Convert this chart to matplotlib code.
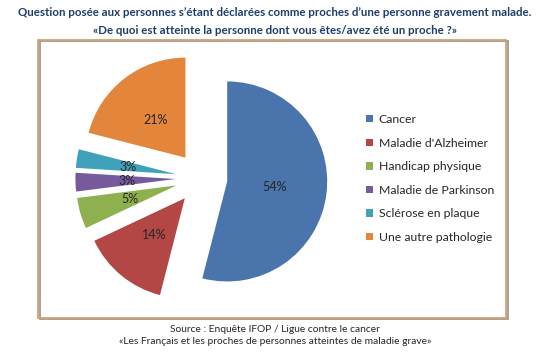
import matplotlib
matplotlib.use("Agg")
import matplotlib.pyplot as plt
from matplotlib.patches import Rectangle

categories = ["Cancer", "Maladie d'Alzheimer", "Handicap physique",
              "Maladie de Parkinson", "Sclérose en plaque", "Une autre pathologie"]
values = [54, 14, 5, 3, 3, 21]
colors = ["#4A74AC", "#B34745", "#8FB04F", "#765A9C", "#3FA2BA", "#E3863C"]

title_lines = ["Question posée aux personnes s\u2019étant déclarées comme proches d\u2019une personne gravement malade.",
               "«De quoi est atteinte la personne dont vous êtes/avez été un proche ?»"]
source_lines = ["Source : Enquête IFOP / Ligue contre le cancer",
                "«Les Français et les proches de personnes atteintes de maladie grave»"]

plt.rcParams['font.family'] = ['Lato', 'DejaVu Sans']

W, H = 550, 363
fig = plt.figure(figsize=(W / 100, H / 100), dpi=100)
ax = fig.add_axes([0, 0, 1, 1])

R = 100
wedges, texts, autotexts = ax.pie(
    values, colors=colors, startangle=90, counterclock=False,
    explode=[26] * len(values), radius=R, center=(201.4, H - 178.2),
    autopct='%d%%', pctdistance=0.48,
    textprops=dict(fontsize=9, color='#262626'))
ax.set_xlim(0, W)
ax.set_ylim(0, H)
ax.set_aspect('equal')
ax.axis('off')

# frame box
ax.add_patch(Rectangle((39.5, H - 319), 468, 278, fill=False,
                       edgecolor='#9A9A9A', linewidth=1.3, zorder=0))
ax.add_patch(Rectangle((38, H - 318), 468, 278, fill=False,
                       edgecolor='#D4A070', linewidth=1.3, zorder=0))

leg = ax.legend(wedges, categories, loc='upper left',
                bbox_to_anchor=(366 / W, 1 - 114 / H),
                frameon=False, fontsize=8.8, handlelength=0.55, handleheight=0.55,
                handletextpad=0.5, labelspacing=1.03, borderaxespad=0,
                borderpad=0)
for t in leg.get_texts():
    t.set_color('#262626')

renderer = fig.canvas.get_renderer()
t1 = fig.text(0.5, 1 - 13 / H, title_lines[0], ha='center', va='center',
              fontsize=9.5, fontweight='bold', color='#1F3D6B')
w1 = t1.get_window_extent(renderer).width
fs = 9.5 * 510 / w1
t1.set_fontsize(fs)
fig.text(0.5, 1 - 30 / H, title_lines[1], ha='center', va='center',
         fontsize=fs, fontweight='bold', color='#1F3D6B')
fig.text(0.5, 1 - 330 / H, source_lines[0], ha='center', va='center',
         fontsize=7.4, color='#262626')
fig.text(0.5, 1 - 341 / H, source_lines[1], ha='center', va='center',
         fontsize=7.4, color='#262626')

fig.savefig("out.png", dpi=100)
